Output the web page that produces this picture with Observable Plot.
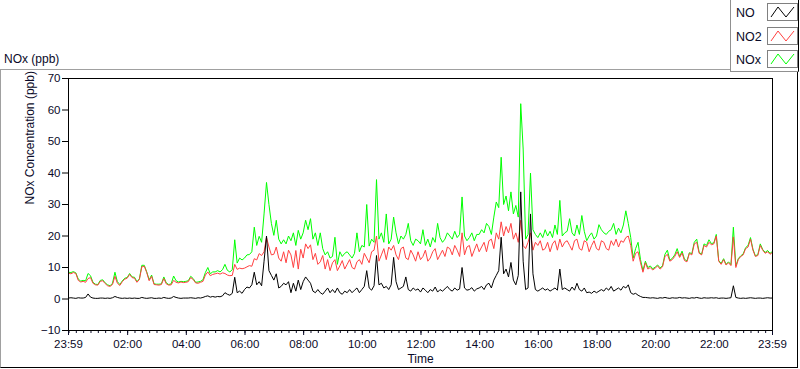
<!DOCTYPE html>
<html><head><meta charset="utf-8">
<script src="https://cdn.jsdelivr.net/npm/d3@7"></script>
<script src="https://cdn.jsdelivr.net/npm/@observablehq/plot@0.6"></script>
<style>
body{margin:0;background:#fff;font-family:"Liberation Sans",Arial,sans-serif;color:#0a0a28}
#wrap{position:relative;width:800px;height:369px;overflow:hidden;background:#fff}
#title{position:absolute;left:4px;top:51px;font-size:12px;line-height:16px}
#frame{position:absolute;left:0;top:69px;width:796px;height:297px;border-top:1px solid #a0a0a0;border-left:1px solid #a0a0a0;border-right:1px solid #000;border-bottom:1px solid #000}
#chart{position:absolute;left:0;top:70px}
#legend{position:absolute;left:730px;top:-1px;width:67px;height:71px;background:#fff;border:1px solid #909090;border-right-color:#000;z-index:2}
.row{position:absolute;left:0;height:20px;width:67px}
.row span{position:absolute;left:5px;top:3px;font-size:12.5px;line-height:14px}
.row svg{position:absolute;left:36px;top:0}
</style></head>
<body><div id="wrap">
<div id="title">NOx (ppb)</div>
<div id="frame"></div>
<div id="chart"></div>
<div id="legend"></div>
</div>
<script>
// ---- data (5-minute samples starting 23:59) ----
const startTime = Date.UTC(2000, 0, 1, 23, 59);
const stepMinutes = 5;
const seriesNames = ["NO", "NO2", "NOx"];
const seriesColors = ["#000000", "#ff4040", "#00ff00"];

const no = [
0.3,0.4,0.3,0.2,0.4,0.3,0.3,0.5,1.6,0.6,0.3,0.2,
0.2,0.3,0.3,0.2,0.3,0.2,0.4,0.8,0.5,0.3,0.2,0.3,
0.2,0.3,0.2,0.3,0.2,0.2,0.5,0.3,0.2,0.3,0.4,0.2,
0.2,0.3,0.2,0.5,0.3,0.2,0.3,0.8,0.5,0.3,0.2,0.3,
0.3,0.3,0.4,0.3,0.2,0.4,0.3,0.5,0.8,1.0,0.6,0.8,
0.6,0.8,0.7,1.0,2.0,1.5,1.2,1.8,6.9,2.0,2.5,1.8,
3.0,3.8,3.5,4.5,8.5,4.5,5.5,4.2,12.0,20.0,9.0,7.5,
6.0,8.0,3.5,4.0,5.0,4.5,5.5,2.0,5.0,2.5,6.0,3.0,
5.5,7.0,6.0,5.0,2.5,2.0,3.0,2.0,1.5,2.5,3.5,2.0,
3.0,2.0,3.5,2.0,1.5,2.5,2.0,3.0,2.0,2.8,3.5,2.0,
3.0,4.0,9.0,3.5,2.8,4.2,13.8,4.5,5.0,3.5,4.0,3.0,
4.5,13.2,5.5,3.0,3.5,4.0,7.0,3.0,2.5,3.5,2.8,3.2,
2.2,3.5,2.8,2.0,3.0,2.5,3.8,2.2,3.0,2.5,3.2,4.0,
3.0,2.5,3.5,2.8,3.2,10.0,3.5,2.8,3.0,3.6,2.5,3.2,
3.5,4.0,3.0,4.5,5.0,3.5,6.0,7.5,9.0,19.6,8.0,9.5,
7.0,11.6,6.0,4.5,7.5,34.0,12.0,3.0,3.5,27.0,8.0,3.0,
2.5,3.0,3.5,2.8,3.2,2.5,3.0,3.5,2.8,9.5,3.0,3.5,
3.0,2.5,3.8,2.8,5.0,3.0,2.5,3.5,2.0,2.2,1.8,2.5,
2.0,2.5,3.0,2.5,3.5,2.8,4.0,2.5,3.0,3.5,2.8,4.0,
3.5,4.5,2.0,1.5,1.8,1.2,0.8,0.5,0.5,0.4,0.3,0.4,
0.3,0.2,0.4,0.3,0.5,0.3,0.2,0.4,0.3,0.3,0.5,0.3,
0.4,0.3,0.2,0.4,0.3,0.5,0.3,0.2,0.4,0.3,0.3,0.4,
0.3,0.4,0.2,0.3,0.3,0.2,0.3,0.4,4.2,0.5,0.3,0.2,
0.3,0.2,0.3,0.4,0.3,0.2,0.3,0.3,0.2,0.3,0.4,0.3,
0.3];

const no2 = [
8.2,8.0,8.4,8.1,5.9,5.4,5.6,5.3,6.5,6.8,5.0,4.5,
4.4,5.6,5.8,4.9,4.2,4.0,4.6,7.2,5.0,4.3,5.5,6.3,
6.6,7.8,6.8,6.6,5.3,6.2,10.2,10.4,8.4,5.8,7.2,4.6,
4.5,4.4,4.6,6.5,4.8,4.4,4.5,5.9,5.3,5.1,5.4,5.2,
5.3,5.5,6.8,6.2,5.1,5.0,5.3,5.6,7.6,8.6,7.4,7.8,
8.0,8.2,7.9,8.3,8.1,7.6,7.4,7.5,11.0,9.4,9.8,9.6,
9.8,10.2,10.6,10.4,12.8,12.4,14.4,13.8,15.0,19.6,16.5,14.0,
14.2,16.5,13.0,12.0,15.0,11.5,15.5,14.0,10.0,15.4,9.5,15.8,
13.0,17.5,16.0,17.2,12.5,14.5,11.0,11.8,13.8,9.5,12.5,9.0,
11.5,12.5,9.0,10.5,12.2,9.5,11.0,12.5,10.0,9.5,11.8,12.5,
11.0,14.5,13.0,11.5,15.0,15.5,20.0,12.0,14.0,16.0,12.5,16.5,
15.5,17.0,14.0,12.5,16.0,16.5,13.0,12.5,15.5,14.0,12.0,15.0,
12.5,13.5,15.5,12.0,13.0,15.0,16.0,12.5,14.0,15.5,13.5,16.5,
16.0,14.0,17.0,15.5,13.5,21.0,14.0,16.5,17.0,13.5,15.5,17.5,
15.0,16.5,18.0,15.0,18.5,19.0,16.0,21.0,19.0,24.5,20.0,23.0,
21.0,24.0,19.0,21.0,18.0,25.0,17.0,16.0,18.0,21.0,15.5,18.0,
17.0,18.5,15.5,16.0,18.0,15.0,17.5,18.5,15.5,19.0,16.5,18.0,
18.5,17.0,15.5,18.5,19.0,16.0,15.5,18.5,18.0,15.0,17.0,18.5,
16.0,15.5,18.5,18.0,16.0,15.5,18.5,17.0,19.0,16.5,18.5,18.0,
19.5,20.0,17.0,12.0,14.5,15.0,11.5,8.5,11.5,9.5,10.0,9.2,
9.8,10.5,9.5,10.2,13.5,14.2,12.0,12.5,13.5,15.0,13.2,14.6,
12.2,11.8,14.5,14.0,17.5,18.0,14.5,14.0,17.0,16.5,18.0,17.2,
17.5,20.0,12.0,11.0,12.5,10.8,11.5,10.6,19.7,10.0,12.5,13.5,
14.0,16.0,16.5,19.0,15.5,13.5,13.8,17.0,15.5,14.5,15.0,14.2,
14.8];

const nox = [
8.5,8.4,8.7,8.3,6.3,5.7,5.9,5.8,8.1,7.4,5.3,4.7,
4.6,5.9,6.1,5.1,4.5,4.2,5.0,8.5,5.5,4.6,5.7,6.6,
6.8,8.1,7.0,6.9,5.5,6.4,10.7,10.7,8.6,6.1,7.6,4.8,
4.7,4.7,4.8,7.0,5.1,4.6,4.8,7.3,5.8,5.4,5.6,5.5,
5.6,5.8,7.2,6.5,5.3,5.4,5.6,6.1,8.4,10.0,8.0,8.6,
8.6,9.0,8.6,9.3,11.0,9.1,8.6,9.3,18.8,11.4,13.0,12.4,
13.0,14.0,14.1,15.0,22.8,17.0,19.9,18.0,27.0,37.0,30.0,24.0,
20.2,25.0,19.0,17.5,18.8,17.5,20.0,18.5,21.0,17.0,21.8,19.0,
21.0,25.0,22.0,25.5,19.0,21.0,17.0,21.0,16.0,14.0,15.0,13.0,
13.5,19.6,11.0,15.0,13.5,14.5,15.0,14.0,13.0,14.5,21.0,15.0,
17.0,16.5,30.0,16.8,19.0,18.0,37.9,19.0,21.0,18.0,27.0,17.5,
19.0,26.0,21.0,17.5,20.0,19.0,20.5,24.0,18.5,17.0,19.0,18.5,
17.5,22.0,17.0,19.0,16.5,19.5,18.0,24.0,19.5,18.0,19.0,21.0,
20.0,19.0,21.5,19.5,20.5,32.4,20.0,18.5,19.5,21.0,18.5,20.5,
20.5,22.0,21.0,24.0,23.0,20.5,26.0,30.8,29.0,45.0,30.0,32.7,
28.0,34.0,27.0,29.7,26.0,62.0,47.6,19.0,20.5,40.0,22.0,20.5,
19.5,21.0,19.5,22.0,20.0,21.5,19.5,23.5,20.5,31.3,20.0,21.0,
21.5,25.5,21.0,20.0,23.5,20.5,26.5,21.5,18.5,20.0,21.0,19.0,
20.0,23.6,22.0,21.0,20.5,21.5,22.0,24.0,20.5,22.5,21.0,23.5,
28.0,24.0,19.5,13.0,16.0,18.0,12.5,9.0,12.0,10.0,10.5,9.6,
10.1,10.8,9.9,10.5,14.2,15.5,12.3,12.9,14.0,16.0,13.5,15.2,
12.6,12.1,14.7,14.4,18.0,19.0,14.8,14.2,17.5,17.0,18.8,17.6,
17.8,20.5,12.2,11.3,12.8,11.0,11.8,10.9,22.8,10.5,12.8,13.7,
14.3,16.3,17.0,19.5,15.8,13.7,14.1,17.5,15.7,14.8,15.4,14.5,
15.1];

const yTicks = [-10, 0, 10, 20, 30, 40, 50, 60, 70];
const xTickLabels = ["23:59","02:00","04:00","06:00","08:00","10:00","12:00","14:00","16:00","18:00","20:00","22:00","23:59"];
const minorTickMinutes = 15;

// ---- build ----
const toTime = i => new Date(startTime + i * stepMinutes * 60000);
const rows = [];
[nox, no2, no].forEach((arr, k) => {
  const name = ["NOx", "NO2", "NO"][k];
  arr.forEach((v, i) => rows.push({series: name, t: toTime(i), v}));
});
const t0 = new Date(startTime);
const t1 = new Date(startTime + 24 * 3600000);
const parseTick = (s, i) => {
  const [h, m] = s.split(":").map(Number);
  return new Date(Date.UTC(2000, 0, i === 0 ? 1 : 2, h, m));
};
const majorTicks = xTickLabels.map(parseTick);
const minorTicks = d3.utcMinute.every(minorTickMinutes).range(t0, t1);
const colorOf = {NO: seriesColors[0], NO2: seriesColors[1], NOx: seriesColors[2]};

const chart = Plot.plot({
  width: 800, height: 298,
  marginLeft: 68, marginRight: 28, marginTop: 8, marginBottom: 38,
  style: {fontFamily: '"Liberation Sans", Arial, sans-serif', fontSize: "11.5px", color: "#0a0a28", background: "transparent"},
  x: {type: "utc", domain: [t0, t1], axis: null},
  y: {domain: [-10, 70], axis: null},
  marks: [
    Plot.axisY({ticks: yTicks, tickSize: 6, tickPadding: 2, label: null, stroke: "#000"}),
    Plot.axisX({ticks: minorTicks, tickSize: 3, tickFormat: () => "", label: null}),
    Plot.axisX({ticks: majorTicks, tickSize: 5, tickPadding: 4, tickFormat: d3.utcFormat("%H:%M"), label: null}),
    ...["NOx", "NO2", "NO"].map(s =>
      Plot.line(rows.filter(d => d.series === s), {x: "t", y: "v", stroke: colorOf[s], strokeWidth: 1})
    ),
    Plot.frame({stroke: "#000"}),
    Plot.text(["NOx Concentration (ppb)"], {frameAnchor: "left", dx: -38, rotate: -90, fontSize: 12, fill: "#0a0a28"}),
    Plot.text(["Time"], {frameAnchor: "bottom", dy: 32, fontSize: 12, fill: "#0a0a28"})
  ]
});
document.getElementById("chart").appendChild(chart);

// ---- legend ----
const legend = document.getElementById("legend");
seriesNames.forEach((name, i) => {
  const row = document.createElement("div");
  row.className = "row";
  row.style.top = (3 + i * 23.5) + "px";
  row.innerHTML = `<span>${name}</span><svg width="31" height="18"><rect x="0.5" y="0.5" width="30" height="17" fill="#fff" stroke="#808080"/><polyline points="4,14 11,4 19,14 27,4" fill="none" stroke="${seriesColors[i]}" stroke-width="1"/></svg>`;
  legend.appendChild(row);
});
</script>
</body></html>
